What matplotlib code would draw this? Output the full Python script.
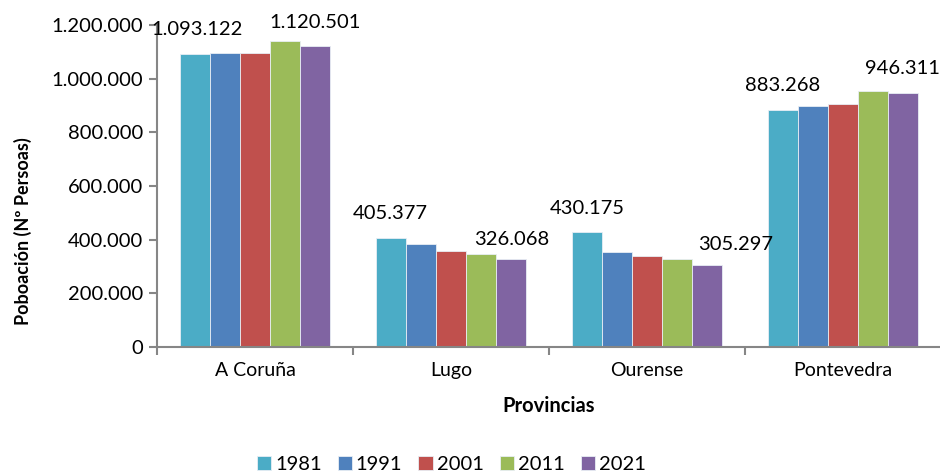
import matplotlib
matplotlib.use("Agg")
import matplotlib.pyplot as plt
from matplotlib.ticker import FuncFormatter
import numpy as np

provincias = ["A Coruña", "Lugo", "Ourense", "Pontevedra"]
anos = ["1981", "1991", "2001", "2011", "2021"]
poboacion = {
    "1981": [1093122, 405377, 430175, 883268],
    "1991": [1096966, 384365, 353491, 896847],
    "2001": [1096027, 357648, 338446, 903759],
    "2011": [1141286, 346005, 326724, 955050],
    "2021": [1120501, 326068, 305297, 946311],
}
cores = ["#4BACC6", "#4F81BD", "#C0504D", "#9BBB59", "#8064A2"]

# which bars carry a value label: (year, province index, dx px, dy px)
etiquetas = [("1981", 0, 2, 24), ("2021", 0, 0, 24),
             ("1981", 1, -1, 25), ("2021", 1, 1, 20),
             ("1981", 2, 0, 23), ("2021", 2, 29, 21),
             ("1981", 3, 0, 24), ("2021", 3, 0, 25)]

plt.rcParams["font.family"] = ["Lato", "DejaVu Sans"]
eixo = "#868686"

def miles(v, pos=None):
    return f"{int(v):,}".replace(",", ".")

fig = plt.figure(figsize=(9.4, 4.75), dpi=100)
ax = fig.add_axes([0.167, 0.2695, 0.834, 0.678])

x = np.arange(len(provincias))
w = 0.153
barras = {}
for i, ano in enumerate(anos):
    barras[ano] = ax.bar(x + (i - 2) * w, poboacion[ano], w, color=cores[i],
                         edgecolor="#E8EEF4", linewidth=0.6, label=ano, zorder=2)

for ano, k, dx, dy in etiquetas:
    b = barras[ano][k]
    ax.annotate(miles(b.get_height()), (b.get_x() + b.get_width() / 2, b.get_height()),
                xytext=(dx, dy), textcoords="offset pixels", ha="center", va="center",
                fontsize=14.5, color="black")

ax.set_xlim(-0.5, 3.5)
ax.set_ylim(0, 1200000)
ax.set_yticks(np.arange(0, 1200001, 200000))
ax.yaxis.set_major_formatter(FuncFormatter(miles))
ax.set_xticks(x)
ax.set_xticklabels(provincias)
ax.set_xticks([-0.5, 0.5, 1.5, 2.5], minor=True)
ax.tick_params(axis="x", which="major", length=0, pad=11, labelsize=14)
ax.tick_params(axis="x", which="minor", length=6, width=1.5, color=eixo, direction="out")
ax.tick_params(axis="y", length=6, width=1.5, color=eixo, labelsize=14.5, pad=4)

for s in ["top", "right"]:
    ax.spines[s].set_visible(False)
for s in ["left", "bottom"]:
    ax.spines[s].set_color(eixo)
    ax.spines[s].set_linewidth(1.5)

ax.set_xlabel("Provincias", fontweight="bold", fontsize=14.5, labelpad=12)
ax.set_ylabel("Poboación (Nº Persoas)", fontweight="bold", fontsize=13)
ax.yaxis.set_label_coords(-0.16, 0.36)

fig.legend(loc="center", bbox_to_anchor=(0.48, 0.022), ncol=5, frameon=False,
           fontsize=14.5, handlelength=0.7, handleheight=0.7, handletextpad=0.2,
           columnspacing=0.8)

fig.savefig("out.png", dpi=100)
